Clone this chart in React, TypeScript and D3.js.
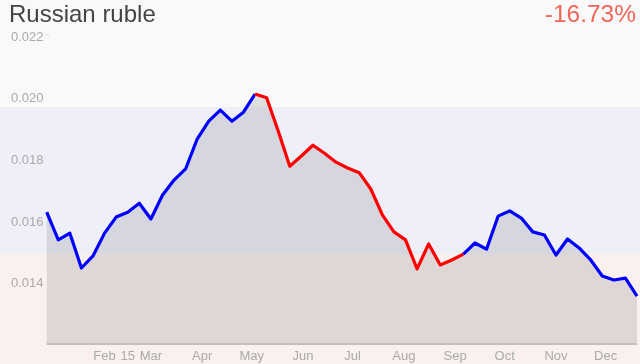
import React from "react";
import * as d3 from "d3";

const title = "Russian ruble";
const changeLabel = "-16.73%";

const weeks = [
  "2014-12-28", "2015-01-04", "2015-01-11", "2015-01-18", "2015-01-25",
  "2015-02-01", "2015-02-08", "2015-02-15", "2015-02-22", "2015-03-01",
  "2015-03-08", "2015-03-15", "2015-03-22", "2015-03-29", "2015-04-05",
  "2015-04-12", "2015-04-19", "2015-04-26", "2015-05-03", "2015-05-10",
  "2015-05-17", "2015-05-24", "2015-05-31", "2015-06-07", "2015-06-14",
  "2015-06-21", "2015-06-28", "2015-07-05", "2015-07-12", "2015-07-19",
  "2015-07-26", "2015-08-02", "2015-08-09", "2015-08-16", "2015-08-23",
  "2015-08-30", "2015-09-06", "2015-09-13", "2015-09-20", "2015-09-27",
  "2015-10-04", "2015-10-11", "2015-10-18", "2015-10-25", "2015-11-01",
  "2015-11-08", "2015-11-15", "2015-11-22", "2015-11-29", "2015-12-06",
  "2015-12-13", "2015-12-20",
];

const rates = [
  0.01629, 0.01539, 0.01561, 0.01448, 0.01487, 0.01561, 0.01613, 0.01629,
  0.01658, 0.01607, 0.01684, 0.01733, 0.01769, 0.01866, 0.01924, 0.0196,
  0.01924, 0.01953, 0.02012, 0.02, 0.01892, 0.01778, 0.01811, 0.01846,
  0.0182, 0.01791, 0.01772, 0.01757, 0.01704, 0.0162, 0.01565, 0.01539,
  0.01445, 0.01526, 0.01458, 0.01474, 0.01493, 0.01529, 0.01509, 0.01616,
  0.01633, 0.0161, 0.01565, 0.01555, 0.0149, 0.01542, 0.01513, 0.01474,
  0.01422, 0.01409, 0.01415, 0.01357,
];

// segments of the line: [startIndex, endIndex, kind]
const segments: [number, number, string][] = [
  [0, 18, "up"],
  [18, 36, "down"],
  [36, 51, "up"],
];

const yTicks = [0.014, 0.016, 0.018, 0.02, 0.022];
const xTickDates = [
  "2015-02-01", "2015-02-15", "2015-03-01", "2015-04-01", "2015-05-01",
  "2015-06-01", "2015-07-01", "2015-08-01", "2015-09-01", "2015-10-01",
  "2015-11-01", "2015-12-01",
];
const xTickLabels = ["Feb", "15", "Mar", "Apr", "May", "Jun", "Jul", "Aug", "Sep", "Oct", "Nov", "Dec"];

// band thresholds (upper / lower)
const bandUpper = 0.0197;
const bandLower = 0.01493;
const yDomain = [0.012, 0.022];

const W = 640;
const H = 364;
const FONT = "'Liberation Sans', Arial, Helvetica, sans-serif";

const parse = d3.utcParse("%Y-%m-%d");

export default function App() {
  const dates = weeks.map((s) => parse(s) as Date);
  const data = dates.map((d, i) => ({ d, v: rates[i] }));

  const x = d3
    .scaleUtc()
    .domain([dates[0], dates[dates.length - 1]])
    .range([46.7, 637]);
  const y = d3.scaleLinear().domain(yDomain).range([344.5, 36]);

  const base = y(yDomain[0]);
  const area = d3
    .area<{ d: Date; v: number }>()
    .x((p) => x(p.d))
    .y0(base)
    .y1((p) => y(p.v));
  const line = d3
    .line<{ d: Date; v: number }>()
    .x((p) => x(p.d))
    .y((p) => y(p.v));

  const colorOf = (k: string) => (k === "down" ? "#ff0000" : "#0000ff");

  return (
    <div style={{ position: "fixed", left: 0, top: 0, width: W, height: H }}>
      <svg width={W} height={H} style={{ display: "block", fontFamily: FONT }}>
        <rect x={0} y={0} width={W} height={y(bandUpper)} fill="#f9f9f9" />
        <rect
          x={0}
          y={y(bandUpper)}
          width={W}
          height={y(bandLower) - y(bandUpper)}
          fill="#efeff8"
        />
        <rect x={0} y={y(bandLower)} width={W} height={H - y(bandLower)} fill="#f9f0ef" />

        <path d={area(data) || ""} fill="rgba(0,0,0,0.1)" />
        <line x1={x(dates[0])} x2={637} y1={base - 0.5} y2={base - 0.5} stroke="#c9bdbc" strokeWidth={2} />
        <line x1={45} x2={50} y1={y(0.022) - 1} y2={y(0.022) - 1} stroke="#e2e2e2" strokeWidth={1} />

        {segments.map(([a, b, k], i) => (
          <path
            key={i}
            d={line(data.slice(a, b + 1)) || ""}
            fill="none"
            stroke={colorOf(k)}
            strokeWidth={3.2}
            strokeLinejoin="round"
          />
        ))}

        {yTicks.map((t) => (
          <text
            key={t}
            x={43.5}
            y={y(t)}
            dy="0.35em"
            textAnchor="end"
            fontSize={13}
            fill="#aaaaaa"
          >
            {d3.format(".3f")(t)}
          </text>
        ))}

        {xTickDates.map((s, i) => (
          <text
            key={s}
            x={x(parse(s) as Date)}
            y={360}
            textAnchor="middle"
            fontSize={13}
            fill="#aaaaaa"
          >
            {xTickLabels[i]}
          </text>
        ))}

        <text x={9} y={22} fontSize={24} fill="#444444">
          {title}
        </text>
        <text x={636} y={22} textAnchor="end" fontSize={24.5} fill="#f0675a">
          {changeLabel}
        </text>
      </svg>
    </div>
  );
}
